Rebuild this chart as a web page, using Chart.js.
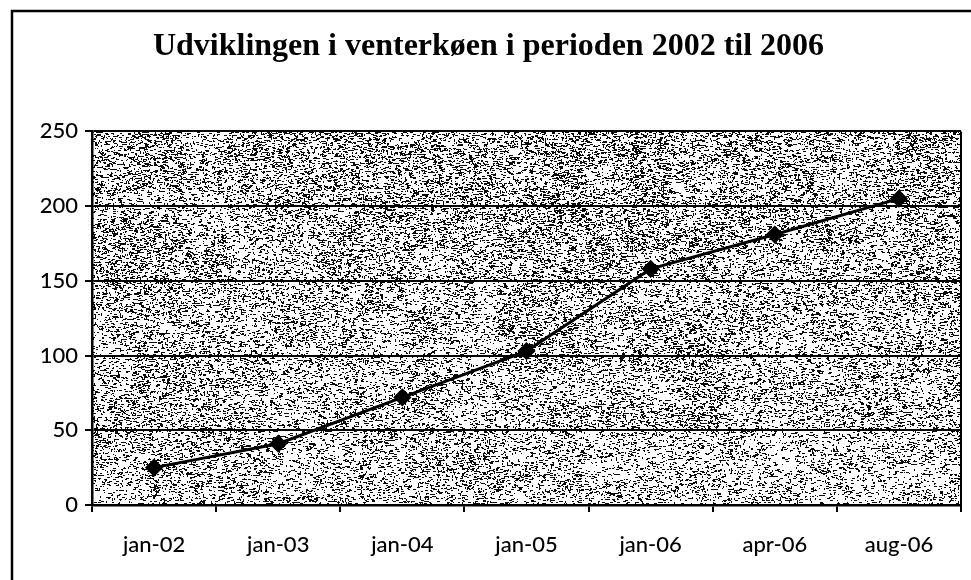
<!DOCTYPE html>
<html>
<head>
<meta charset="utf-8">
<script src="https://cdn.jsdelivr.net/npm/chart.js@4/dist/chart.umd.min.js"></script>
<style>
  html, body { margin: 0; padding: 0; background: #ffffff; }
  #wrap { position: relative; width: 971px; height: 580px; }
</style>
</head>
<body>
<div id="wrap"><canvas id="c" width="971" height="580"></canvas></div>
<script>
const titleText = "Udviklingen i venterkøen i perioden 2002 til 2006";
const categories = ["jan-02", "jan-03", "jan-04", "jan-05", "jan-06", "apr-06", "aug-06"];
const queueValues = [25, 41, 72, 103, 158, 181, 205];
const yTicks = [0, 50, 100, 150, 200, 250];

// deterministic hash for the stipple texture (decoration only)
function hash(x, y, s) {
  let h = Math.imul(x, 374761393) ^ Math.imul(y, 668265263) ^ Math.imul(s || 1, 2246822519);
  h = Math.imul(h ^ (h >>> 13), 1274126177);
  h = Math.imul(h ^ (h >>> 16), 2654435761);
  h ^= h >>> 15;
  return (h >>> 0) / 4294967296;
}

const texturePlugin = {
  id: 'texture',
  beforeDraw(chart) {
    const { ctx, chartArea: a } = chart;
    const w = Math.round(a.right - a.left), h = Math.round(a.bottom - a.top);
    const img = ctx.createImageData(w, h);
    const d = img.data;
    for (let i = 0; i < d.length; i += 4) { d[i] = d[i+1] = d[i+2] = 255; d[i+3] = 255; }
    const setDark = (x, y) => {
      if (x < 0 || y < 0 || x >= w || y >= h) return;
      const j = (y * w + x) * 4;
      d[j] = d[j+1] = d[j+2] = 10;
    };
    for (let y = 0; y < h; y++) {
      const base = 0.16 - 0.05 * (y / h);
      for (let x = 0; x < w; x++) {
        const lf = hash(Math.floor(x / 45), Math.floor(y / 30), 7) * 0.08 - 0.03;
        if (hash(x, y, 3) < base + lf) {
          const r = hash(x, y, 5);
          setDark(x, y);
          if (r < 0.6) setDark(x + 1, y);
          if (r < 0.3) setDark(x + 2, y);
          if (r > 0.8) setDark(x, y + 1);
        }
      }
    }
    ctx.putImageData(img, Math.round(a.left), Math.round(a.top));
  },
  afterDraw(chart) {
    const { ctx, chartArea: a } = chart;
    ctx.save();
    ctx.strokeStyle = '#000';
    ctx.lineWidth = 2;
    ctx.beginPath();
    ctx.moveTo(a.right, a.top);
    ctx.lineTo(a.right, a.bottom + 7);
    ctx.stroke();
    ctx.lineWidth = 2.5;
    ctx.beginPath();
    ctx.moveTo(12, 580);
    ctx.lineTo(12, 11);
    ctx.lineTo(971, 11);
    ctx.stroke();
    ctx.restore();
  }
};

new Chart(document.getElementById('c'), {
  type: 'line',
  data: {
    labels: categories,
    datasets: [{
      data: queueValues,
      borderColor: '#000',
      borderWidth: 3,
      backgroundColor: '#000',
      pointStyle: 'rectRot',
      pointRadius: 7,
      pointBackgroundColor: '#000',
      pointBorderColor: '#000',
      tension: 0
    }]
  },
  options: {
    responsive: false,
    animation: false,
    layout: { padding: { left: 14, right: 8, top: 0, bottom: 0 } },
    plugins: {
      legend: { display: false },
      tooltip: { enabled: false },
      title: {
        display: true,
        text: titleText,
        color: '#000',
        font: { family: '"Liberation Serif", "Times New Roman", serif', size: 32, weight: 'bold' },
        padding: { top: 28, bottom: 65 }
      }
    },
    scales: {
      x: {
        offset: true,
        grid: { offset: true, drawOnChartArea: false, drawTicks: true, tickLength: 7, color: '#000', lineWidth: 2 },
        border: { display: true, color: '#000', width: 2.5 },
        ticks: { color: '#000', font: { family: 'Lato, sans-serif', size: 22, weight: '500' }, padding: 20, maxRotation: 0, autoSkip: false },
        afterFit(s) { s.height = 75; }
      },
      y: {
        min: 0, max: 250,
        afterBuildTicks(s) { s.ticks = yTicks.map(v => ({ value: v })); },
        grid: { drawOnChartArea: true, drawTicks: true, tickLength: 7, color: '#000', lineWidth: 2 },
        border: { display: true, color: '#000', width: 2.5 },
        ticks: { color: '#000', font: { family: 'Lato, sans-serif', size: 22, weight: '500' }, padding: 7 },
        afterFit(s) { s.width = 78; }
      }
    }
  },
  plugins: [texturePlugin]
});
</script>
</body>
</html>
